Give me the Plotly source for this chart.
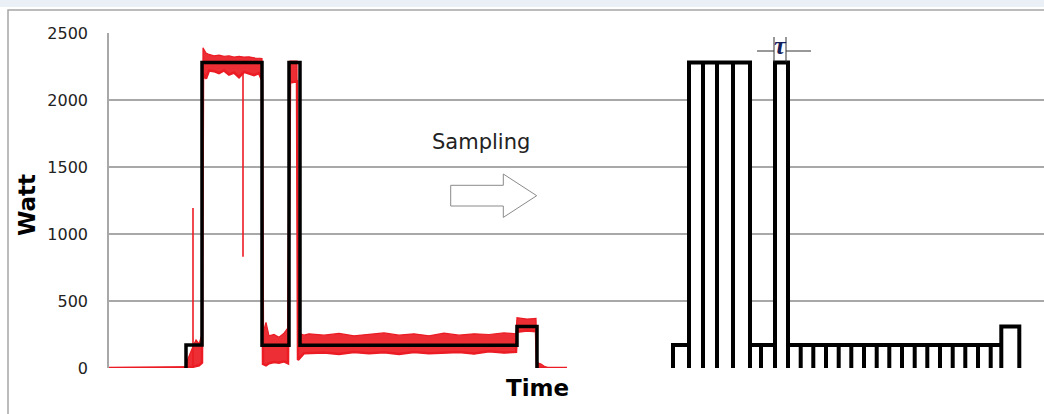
import plotly.graph_objects as go

# ---------------- data (time in sample units, power in Watt) ----------------
# measured signal: upper / lower envelope of the noisy red trace
red_t = [0, 77, 79, 82, 84, 87, 90, 93, 94, 97, 100, 105, 110, 115, 120, 125, 130, 135, 140,
         145, 150, 153, 154, 157, 160, 165, 170, 175, 179, 181, 188, 189, 195, 200, 215, 230,
         245, 260, 275, 290, 305, 320, 335, 350, 365, 380, 395, 407, 408, 418, 427, 428, 432,
         436, 440, 458]
red_upper = [0, 0, 70, 130, 160, 210, 180, 250, 2390, 2350, 2340, 2330, 2335, 2325, 2330, 2320,
             2325, 2320, 2322, 2315, 2310, 2310, 260, 340, 240, 250, 230, 260, 300, 2290, 2290,
             260, 245, 255, 245, 258, 240, 250, 262, 245, 255, 240, 260, 245, 255, 250, 262, 255,
             375, 365, 370, 40, 30, 10, 0, 0]
red_lower = [0, 0, 0, 5, 10, 15, 20, 40, 2200, 2160, 2220, 2215, 2200, 2220, 2190, 2205, 2170,
             2210, 2200, 2185, 2200, 2150, 30, 20, 35, 45, 40, 50, 35, 2130, 2140, 60, 110, 110,
             115, 105, 120, 110, 118, 105, 120, 110, 115, 120, 108, 125, 115, 120, 270, 280, 275,
             0, 0, 0, 0, 0]
# isolated spikes in the measured signal: time, from, to
spike_t = [84, 134]
spike_from = [0, 2200]
spike_to = [1194, 830]

# step approximation of the measured signal
step_edges = [77, 93, 153, 180, 191, 408, 428]
step_levels = [172, 2280, 170, 2280, 170, 310]

# sampled signal (bars of width tau)
bar_edges = [564, 580, 594, 608, 624, 641, 652, 666, 679, 691.7, 704.3, 717, 729.7, 742.3, 755,
             767.7, 780.3, 793, 805.7, 818.3, 831, 843.7, 856.3, 869, 881.7, 892.3, 910.3]
bar_levels = [172, 2280, 2280, 2280, 2280, 172, 172, 2280] + [172] * 17 + [310]

y_ticks = [0, 500, 1000, 1500, 2000, 2500]

# ---------------- layout geometry ----------------
W, H = 1044, 414
ML, MR, MT, MB = 109, 0, 33, 46
PW, PH = W - ML - MR, H - MT - MB
X_MAX = 935


def xp(px):
    return (px - ML) / PW


def yp(py):
    return (H - MB - py) / PH


fig = go.Figure()

RED = "rgb(236,28,36)"
# red measured envelope
poly_x = red_t + red_t[::-1]
poly_y = red_upper + red_lower[::-1]
fig.add_trace(go.Scatter(x=poly_x, y=poly_y, mode="lines", fill="toself",
                         fillcolor="rgba(236,28,36,0.92)",
                         line=dict(color=RED, width=1.2),
                         hoverinfo="skip", showlegend=False))
# baseline part of the measured trace
fig.add_trace(go.Scatter(x=red_t, y=red_lower, mode="lines",
                         line=dict(color=RED, width=2.5),
                         hoverinfo="skip", showlegend=False))
sx, sy = [], []
for t, a, b in zip(spike_t, spike_from, spike_to):
    sx += [t, t, None]
    sy += [a, b, None]
fig.add_trace(go.Scatter(x=sx, y=sy, mode="lines",
                         line=dict(color=RED, width=1.6),
                         hoverinfo="skip", showlegend=False))

# black step
stx = [step_edges[0]]
sty = [0]
for i, lv in enumerate(step_levels):
    stx += [step_edges[i], step_edges[i + 1]]
    sty += [lv, lv]
stx.append(step_edges[-1])
sty.append(0)
fig.add_trace(go.Scatter(x=stx, y=sty, mode="lines",
                         line=dict(color="black", width=3.5),
                         hoverinfo="skip", showlegend=False))

# sampled bars: white fill + outline
centers = [(bar_edges[i] + bar_edges[i + 1]) / 2 for i in range(len(bar_levels))]
widths = [bar_edges[i + 1] - bar_edges[i] for i in range(len(bar_levels))]
fig.add_trace(go.Bar(x=centers, y=bar_levels, width=widths, base=0,
                     marker=dict(color="white", line=dict(width=0)),
                     hoverinfo="skip", showlegend=False))
bx, by = [bar_edges[0]], [0]
for i, lv in enumerate(bar_levels):
    bx += [bar_edges[i], bar_edges[i + 1], bar_edges[i + 1]]
    by += [lv, lv, 0]
fig.add_trace(go.Scatter(x=bx, y=by, mode="lines",
                         line=dict(color="black", width=4),
                         hoverinfo="skip", showlegend=False))

shapes = []
# top light band and outer frame
shapes.append(dict(type="rect", xref="paper", yref="paper", x0=-0.2, x1=1.1,
                   y0=yp(7), y1=yp(-3), fillcolor="#eaf0f5", line=dict(width=0), layer="below"))
shapes.append(dict(type="rect", xref="paper", yref="paper", x0=xp(8), x1=xp(1060),
                   y0=yp(430), y1=yp(10), line=dict(color="#a6a6a6", width=1.5),
                   fillcolor="rgba(0,0,0,0)", layer="below"))
# sampling arrow
pts = [(450.7, 185.3), (503.3, 185.3), (503.3, 174), (536.7, 195.7), (503.3, 217.4),
       (503.3, 206), (450.7, 206)]
path = "M " + " L ".join(f"{xp(a):.5f},{yp(b):.5f}" for a, b in pts) + " Z"
shapes.append(dict(type="path", xref="paper", yref="paper", path=path,
                   fillcolor="white", line=dict(color="#8a8a8a", width=1)))
# tau marker
for x0 in (774, 786):
    shapes.append(dict(type="line", xref="paper", yref="paper", x0=xp(x0), x1=xp(x0),
                       y0=yp(37), y1=yp(62), line=dict(color="#333", width=1)))
shapes.append(dict(type="line", xref="paper", yref="paper", x0=xp(757), x1=xp(774),
                   y0=yp(51), y1=yp(51), line=dict(color="#333", width=1)))
shapes.append(dict(type="line", xref="paper", yref="paper", x0=xp(786), x1=xp(811),
                   y0=yp(51), y1=yp(51), line=dict(color="#333", width=1)))

annotations = [
    dict(text="Watt", x=xp(27), y=yp(205), xref="paper", yref="paper", textangle=-90,
         showarrow=False, xanchor="center", yanchor="middle",
         font=dict(family="DejaVu Sans", size=23, color="black", weight="bold")),
    dict(text="Time", x=xp(537), y=yp(388), xref="paper", yref="paper",
         showarrow=False, xanchor="center", yanchor="middle",
         font=dict(family="DejaVu Sans", size=23, color="black", weight="bold")),
    dict(text="Sampling", x=xp(481), y=yp(142), xref="paper", yref="paper",
         showarrow=False, xanchor="center", yanchor="middle",
         font=dict(family="DejaVu Sans", size=21, color="#222")),
    dict(text="τ", x=xp(780), y=yp(45), xref="paper", yref="paper",
         showarrow=False, xanchor="center", yanchor="middle",
         font=dict(family="Liberation Serif", size=26, color="#14205a",
                   style="italic", weight="bold")),
]

fig.update_layout(
    width=W, height=H,
    margin=dict(l=ML, r=MR, t=MT, b=MB, pad=0),
    paper_bgcolor="white", plot_bgcolor="white",
    showlegend=False, bargap=0,
    shapes=shapes, annotations=annotations,
    xaxis=dict(range=[0, X_MAX], showgrid=False, zeroline=False, showticklabels=False,
               ticks="", showline=False, fixedrange=True),
    yaxis=dict(range=[0, 2500], tickvals=y_ticks, ticktext=[str(v) for v in y_ticks],
               showgrid=True, gridcolor="#a8a8a8", gridwidth=1.5, zeroline=False,
               showline=True, linecolor="#a8a8a8", linewidth=1.5,
               ticks="outside", ticklen=16, tickcolor="rgba(0,0,0,0)",
               tickfont=dict(family="DejaVu Sans", size=16, color="#222"), fixedrange=True),
)

fig.write_html("out.html", config={"displayModeBar": False},
               post_script="document.body.style.margin='0';document.body.style.overflow='hidden';")
